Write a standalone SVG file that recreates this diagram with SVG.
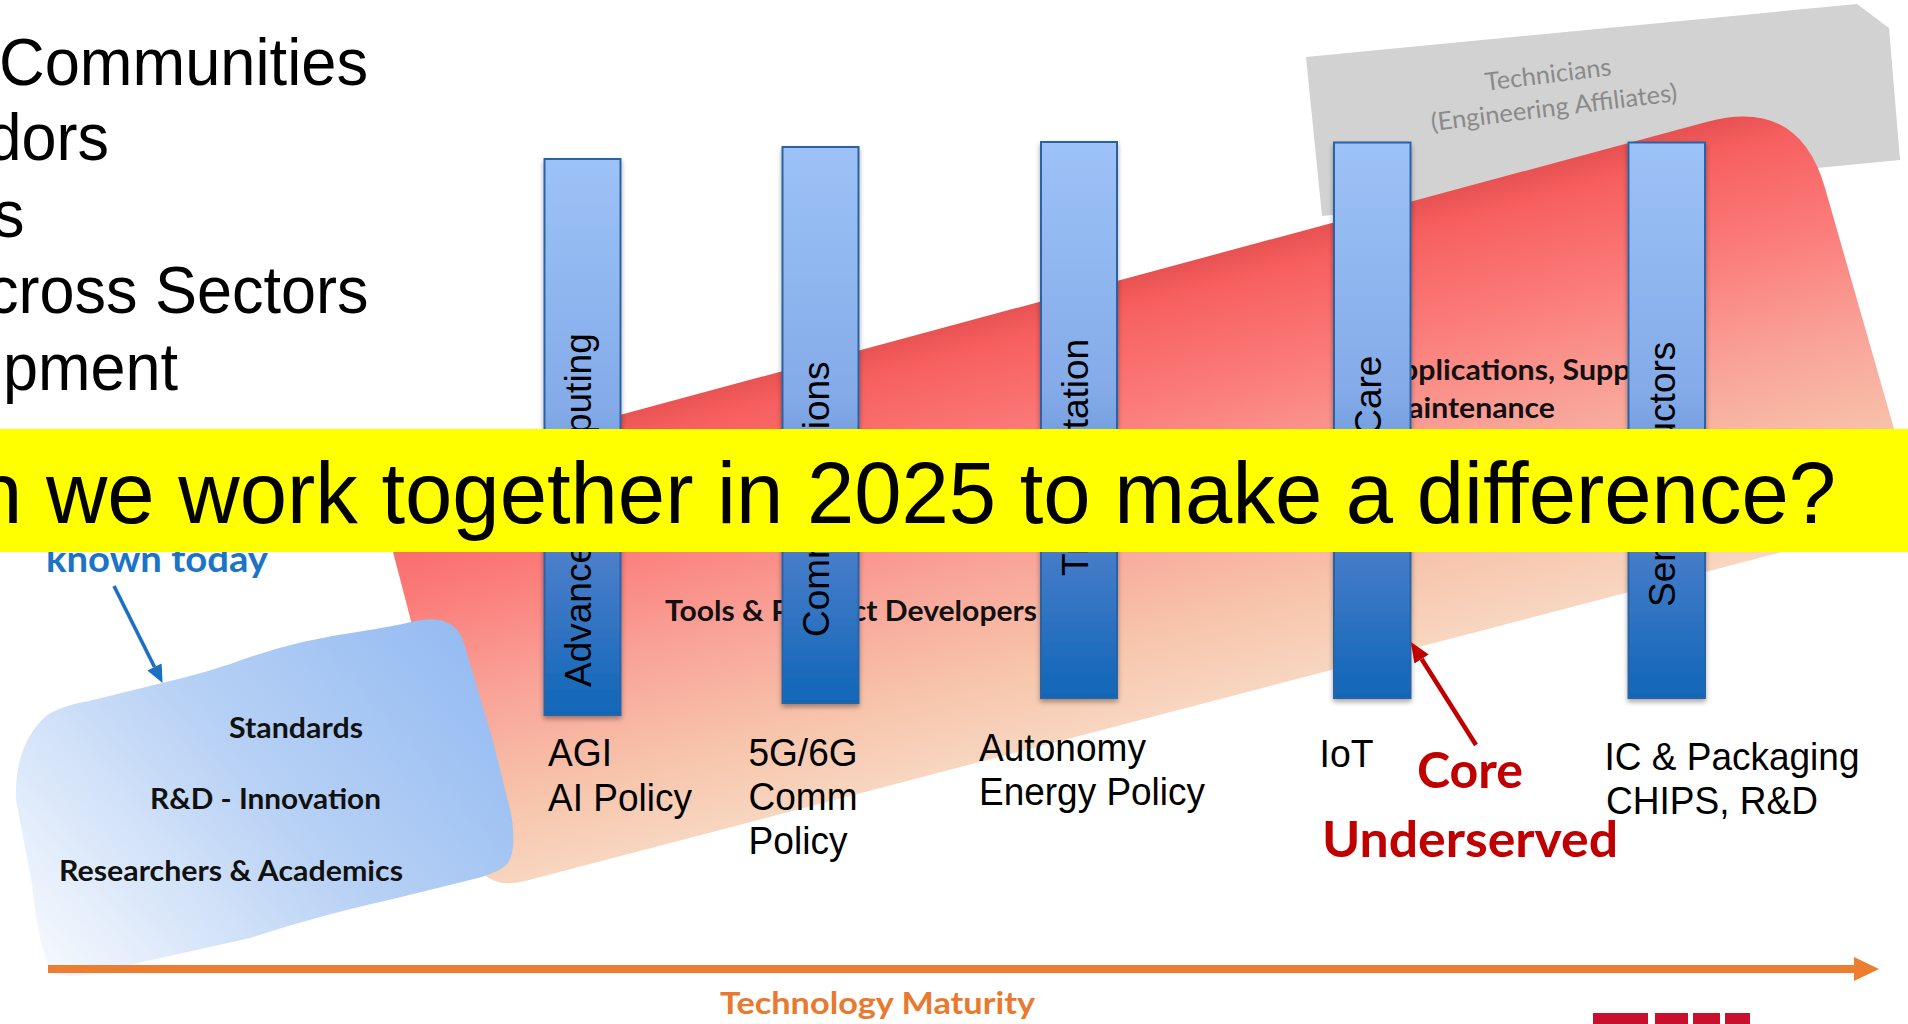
<svg xmlns="http://www.w3.org/2000/svg" width="1908" height="1024" viewBox="0 0 1908 1024">
  <style>
    .sans { font-family: "Liberation Sans", Arial, sans-serif; fill: #000; }
    .bar { fill: url(#barFill); stroke: #2A64A4; stroke-width: 2; filter: url(#barShadow); }
    .barlabel { font-family: "Liberation Sans", Arial, sans-serif; font-size: 37px; fill: #000; }
    .label { font-family: "Liberation Sans", Arial, sans-serif; font-size: 38.5px; fill: #000; }
    .head { font-family: "Liberation Sans", Arial, sans-serif; font-size: 66px; fill: #000; }
    .bold { font-family: Lato, "Open Sans", sans-serif; font-weight: 700; fill: #111; }
    .tech { font-family: Lato, "Open Sans", sans-serif; font-size: 25px; fill: #8A8A8A; }
  </style>
  <defs>
    <linearGradient id="bandFill" gradientUnits="userSpaceOnUse" x1="1000" y1="312" x2="1110" y2="728">
      <stop offset="0" stop-color="#E85252"/>
      <stop offset="0.06" stop-color="#F65E5E"/>
      <stop offset="0.3" stop-color="#FB7C7A"/>
      <stop offset="0.55" stop-color="#F9A298"/>
      <stop offset="0.8" stop-color="#F7C3AA"/>
      <stop offset="1" stop-color="#F8D6C0"/>
    </linearGradient>
    <linearGradient id="blobFill" gradientUnits="userSpaceOnUse" x1="470" y1="630" x2="70" y2="980">
      <stop offset="0" stop-color="#94BBF2"/>
      <stop offset="0.5" stop-color="#B9D2F5"/>
      <stop offset="1" stop-color="#F3F7FD"/>
    </linearGradient>
    <linearGradient id="barFill" x1="0" y1="0" x2="0" y2="1">
      <stop offset="0" stop-color="#9CC2F7"/>
      <stop offset="0.45" stop-color="#84ABE8"/>
      <stop offset="0.72" stop-color="#4A7ECA"/>
      <stop offset="1" stop-color="#1066B8"/>
    </linearGradient>
    <filter id="barShadow" x="-20%" y="-5%" width="140%" height="115%">
      <feDropShadow dx="0" dy="3" stdDeviation="2.5" flood-color="#000" flood-opacity="0.35"/>
    </filter>
    <marker id="headOrange" markerUnits="userSpaceOnUse" markerWidth="25" markerHeight="24" viewBox="0 0 25 24" refX="0" refY="12" orient="auto">
      <path d="M0,0 L25,12 L0,24 Z" fill="#ED7D31"/>
    </marker>
    <marker id="headRed" markerUnits="userSpaceOnUse" markerWidth="20" markerHeight="17" viewBox="0 0 20 17" refX="0" refY="8.5" orient="auto">
      <path d="M0,0 L20,8.5 L0,17 Z" fill="#C00000"/>
    </marker>
    <marker id="headBlue" markerUnits="userSpaceOnUse" markerWidth="18" markerHeight="16" viewBox="0 0 18 16" refX="0" refY="8" orient="auto">
      <path d="M0,0 L18,8 L0,16 Z" fill="#1C70C0"/>
    </marker>
  </defs>

  <rect width="1908" height="1024" fill="#FFFFFF"/>

  <!-- grey technicians plane -->
  <g id="technicians">
    <polygon points="1306,57 1857,4 1889,28 1900,160 1322,216" fill="#D2D2D2"/>
    <text class="tech" x="1549" y="83" text-anchor="middle" textLength="127" lengthAdjust="spacingAndGlyphs" transform="rotate(-7 1549 83)">Technicians</text>
    <text class="tech" x="1555" y="116" text-anchor="middle" textLength="248" lengthAdjust="spacingAndGlyphs" transform="rotate(-7 1555 116)">(Engineering Affiliates)</text>
  </g>

  <!-- red developer band -->
  <g id="developer-band">
    <path d="M413.6,470.6 L1707.3,121.7 Q1799,97 1825.1,188.3 L1919,516 L525,881 Q481.5,892.4 470.2,848.8 L384.7,519.9 Q374.6,481.2 413.6,470.6 Z" fill="url(#bandFill)"/>
    <text class="bold" x="665" y="621" font-size="29" textLength="372" lengthAdjust="spacingAndGlyphs">Tools &amp; Product Developers</text>
    <text class="bold" x="1380" y="380" font-size="29" textLength="320" lengthAdjust="spacingAndGlyphs">Applications, Support &amp;</text>
    <text class="bold" x="1380" y="418" font-size="29" textLength="175" lengthAdjust="spacingAndGlyphs">Maintenance</text>
  </g>

  <!-- blue research blob -->
  <g id="research">
    <path d="M16,800 Q14,745 46,716 Q60,706 89,701 L162,683 Q210,672 250,657 Q300,640 357,632 Q395,626 411,622 Q452,612 463,640 L493,741 L511,813 Q518,855 505,866 Q495,874 470,880 L393,899 Q320,915 250,938 L107,970 Q70,981 54,972 Q40,960 32,884 Z" fill="url(#blobFill)"/>
    <text class="bold" x="229" y="738" font-size="28.5" textLength="134" lengthAdjust="spacingAndGlyphs">Standards</text>
    <text class="bold" x="150" y="809" font-size="28.5" textLength="231" lengthAdjust="spacingAndGlyphs">R&amp;D - Innovation</text>
    <text class="bold" x="59" y="881" font-size="28.5" textLength="344" lengthAdjust="spacingAndGlyphs">Researchers &amp; Academics</text>
  </g>

  <!-- technology columns -->
  <g id="col-computing">
    <rect class="bar" x="544.5" y="159" width="76" height="556"/>
    <text class="barlabel" transform="translate(591 687) rotate(-90)">Advanced Computing</text>
  </g>
  <g id="col-communications">
    <rect class="bar" x="782.5" y="147" width="76" height="556"/>
    <text class="barlabel" transform="translate(829 637) rotate(-90)">Communications</text>
  </g>
  <g id="col-transportation">
    <rect class="bar" x="1041" y="142" width="76" height="556"/>
    <text class="barlabel" transform="translate(1087.5 576) rotate(-90)">Transportation</text>
  </g>
  <g id="col-healthcare">
    <rect class="bar" x="1334" y="142.5" width="76.5" height="555.5"/>
    <text class="barlabel" transform="translate(1380.5 553) rotate(-90)">Health Care</text>
  </g>
  <g id="col-semiconductors">
    <rect class="bar" x="1628.5" y="142.5" width="76.5" height="555.5"/>
    <text class="barlabel" transform="translate(1675 607) rotate(-90)">Semiconductors</text>
  </g>

  <!-- column captions -->
  <g id="captions">
    <text class="label" x="548" y="766" textLength="64" lengthAdjust="spacingAndGlyphs">AGI</text>
    <text class="label" x="548" y="811" textLength="144" lengthAdjust="spacingAndGlyphs">AI Policy</text>
    <text class="label" x="748.5" y="766" textLength="109" lengthAdjust="spacingAndGlyphs">5G/6G</text>
    <text class="label" x="748.5" y="810" textLength="109" lengthAdjust="spacingAndGlyphs">Comm</text>
    <text class="label" x="748.5" y="854" textLength="99" lengthAdjust="spacingAndGlyphs">Policy</text>
    <text class="label" x="979" y="761" textLength="167" lengthAdjust="spacingAndGlyphs">Autonomy</text>
    <text class="label" x="979" y="805" textLength="226" lengthAdjust="spacingAndGlyphs">Energy Policy</text>
    <text class="label" x="1319.5" y="767" textLength="54" lengthAdjust="spacingAndGlyphs">IoT</text>
    <text class="label" x="1604.5" y="770" textLength="255" lengthAdjust="spacingAndGlyphs">IC &amp; Packaging</text>
    <text class="label" x="1606" y="814" textLength="212" lengthAdjust="spacingAndGlyphs">CHIPS, R&amp;D</text>
  </g>

  <g id="core-note">
    <text class="bold" x="1417" y="788" font-size="49" style="fill:#C00000" textLength="106" lengthAdjust="spacingAndGlyphs">Core</text>
    <text class="bold" x="1322" y="857" font-size="49" style="fill:#C00000" textLength="296" lengthAdjust="spacingAndGlyphs">Underserved</text>
  </g>

  <g id="known-note">
    <text class="bold" x="46" y="572" font-size="37" style="fill:#1C74C6" textLength="222" lengthAdjust="spacingAndGlyphs">known today</text>
  </g>

  <!-- connectors -->
  <g id="connectors">
    <line x1="114" y1="586" x2="154.5" y2="667" stroke="#1C70C0" stroke-width="3.6" marker-end="url(#headBlue)"/>
    <line x1="1476" y1="745" x2="1421.6" y2="659" stroke="#C00000" stroke-width="4.5" marker-end="url(#headRed)"/>
    <line x1="48" y1="969" x2="1854" y2="969" stroke="#ED7D31" stroke-width="8" marker-end="url(#headOrange)"/>
  </g>

  <g id="axis-label">
    <text class="bold" x="720" y="1014" font-size="30" style="fill:#E8792E" textLength="315" lengthAdjust="spacingAndGlyphs">Technology Maturity</text>
  </g>

  <!-- logo strip, bottom right -->
  <g id="logo">
    <rect x="1593" y="1013" width="55" height="11" fill="#C8102E"/>
    <rect x="1655" y="1013" width="33" height="11" fill="#C8102E"/>
    <rect x="1693" y="1013" width="27" height="11" fill="#C8102E"/>
    <rect x="1725" y="1013" width="25" height="11" fill="#C8102E"/>
  </g>

  <!-- heading list -->
  <g id="heading">
    <text class="head" x="-1" y="85" textLength="369" lengthAdjust="spacingAndGlyphs">Communities</text>
    <text class="head" x="-13.5" y="160" textLength="122.5" lengthAdjust="spacingAndGlyphs">dors</text>
    <text class="head" x="-7" y="237" textLength="31.5" lengthAdjust="spacingAndGlyphs">s</text>
    <text class="head" x="-13" y="313" textLength="381.6" lengthAdjust="spacingAndGlyphs">cross Sectors</text>
    <text class="head" x="3" y="390" textLength="175" lengthAdjust="spacingAndGlyphs">pment</text>
  </g>

  <!-- question banner -->
  <g id="banner">
    <rect x="0" y="429" width="1908" height="123" fill="#FFFF00"/>
    <text class="sans" x="-25" y="523" font-size="87" textLength="1861" lengthAdjust="spacingAndGlyphs">n we work together in 2025 to make a difference?</text>
  </g>
</svg>
